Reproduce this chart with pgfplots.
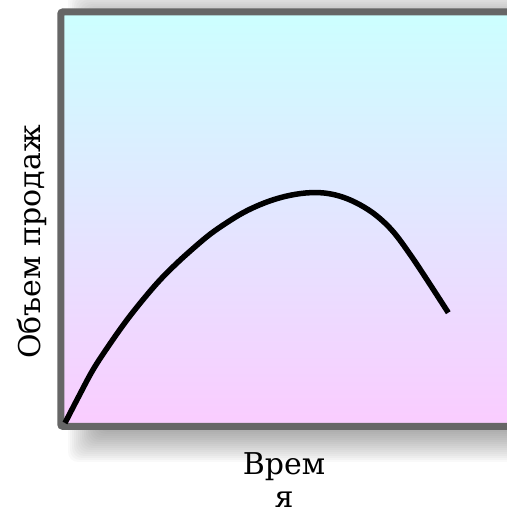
\documentclass[border=0pt]{standalone}
\usepackage{fontspec}
\setmainfont{DejaVu Serif}
\newfontfamily\labelfont{DejaVu Serif}
\usepackage{pgfplots}
\pgfplotsset{compat=1.18}
\definecolor{topfill}{RGB}{204,255,255}
\definecolor{botfill}{RGB}{250,204,255}
\definecolor{frame}{RGB}{102,102,102}

\begin{document}
\begin{tikzpicture}[x=1pt,y=1pt]
\clip (0,0) rectangle (507,507);
% soft shadow behind the frame
\foreach \k in {0,...,15}
  \fill[black,opacity=0.024,rounded corners=10pt]
    ({68+2*\k},{45+2*\k}) rectangle ({554-2*\k},{517-2*\k});
\begin{axis}[
    at={(60.8pt,80.7pt)}, anchor=south west,
    scale only axis,
    width=460pt, height=414.3pt,
    xmin=0, xmax=460, ymin=0, ymax=414.3,
    ticks=none,
    axis line style={draw=none},
    clip=false,
    axis background/.style={top color=topfill, bottom color=botfill,
        draw=frame, line width=7pt, rounded corners=2pt},
]
\addplot[black, line width=5.5pt, smooth, tension=0.6] coordinates {
    (4.2,3.3) (18,30) (32.5,57) (49.2,82.5) (65.9,106) (82.5,127)
    (99.2,146.3) (115.9,163) (132.5,178) (149.2,192) (165.9,203.6)
    (182.5,213.7) (199.2,221.6) (215.9,227.6) (232.5,231.6) (249.2,233.6)
    (265.9,233) (282.5,229) (299.2,221.5) (315.9,210.5) (332.5,194.5)
    (349.2,172) (365.9,147) (387.5,113.6)
};
\end{axis}
\node[rotate=90, anchor=base, font=\labelfont\fontsize{30}{34}\selectfont] at (40,265) {Объем продаж};
\node[anchor=base, font=\labelfont\fontsize{30}{34}\selectfont] at (284,32) {Врем};
\node[anchor=base, font=\labelfont\fontsize{30}{34}\selectfont] at (284,-1) {я};
\end{tikzpicture}
\end{document}
